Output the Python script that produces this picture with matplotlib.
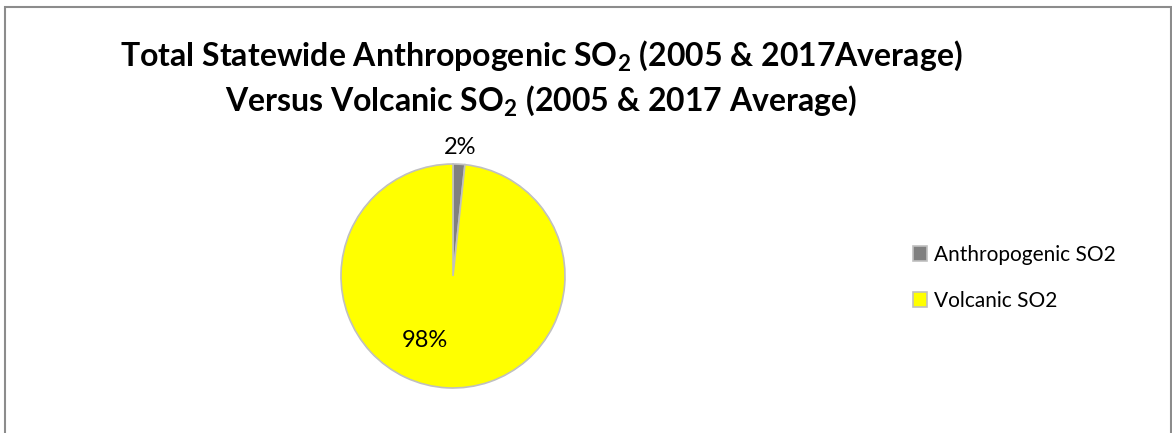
import matplotlib.pyplot as plt
from matplotlib.patches import Rectangle

plt.rcParams['font.family'] = ['Lato', 'DejaVu Sans']
plt.rcParams['mathtext.fontset'] = 'custom'
plt.rcParams['mathtext.rm'] = 'Lato:bold'
plt.rcParams['mathtext.it'] = 'Lato:bold'
plt.rcParams['mathtext.bf'] = 'Lato:bold'

labels = ['Anthropogenic SO2', 'Volcanic SO2']
shares = [1.7, 98.3]
colors = ['#808080', '#FFFF00']

W, H = 1172, 433
fig = plt.figure(figsize=(W / 100, H / 100), dpi=100)

# outer chart frame (bottom edge falls outside the picture)
fig.patches.append(Rectangle((5 / W, -0.05), (1171 - 5) / W, 1.05 - 7 / H,
                             transform=fig.transFigure, fill=False,
                             edgecolor='#8c8c8c', linewidth=1.5))

cx, cy, r = 453, H - 276, 112
ax = fig.add_axes([(cx - r) / W, (cy - r) / H, 2 * r / W, 2 * r / H])
wedges, texts, autotexts = ax.pie(shares, colors=colors, startangle=90, counterclock=False,
                                  autopct='%1.0f%%', pctdistance=1.15,
                                  wedgeprops=dict(edgecolor='#c0c0c0', linewidth=1.2),
                                  textprops=dict(fontsize=17))
ax.set_xlim(-1, 1)
ax.set_ylim(-1, 1)
autotexts[1].set_position((-0.25, -0.58))

fig.text(541 / W, 1 - 56 / H, r'Total Statewide Anthropogenic SO$_2$ (2005 & 2017Average)',
         ha='center', va='center', fontsize=23, fontweight='bold')
fig.text(541 / W, 1 - 101 / H, r'Versus Volcanic SO$_2$ (2005 & 2017 Average)',
         ha='center', va='center', fontsize=23, fontweight='bold')

fig.legend(wedges, labels, loc='upper left', bbox_to_anchor=(894 / W, 1 - 226 / H),
           frameon=False, fontsize=15, handlelength=0.7, handleheight=0.7,
           handletextpad=0.3, labelspacing=1.25)

fig.savefig('out.png', dpi=100)
